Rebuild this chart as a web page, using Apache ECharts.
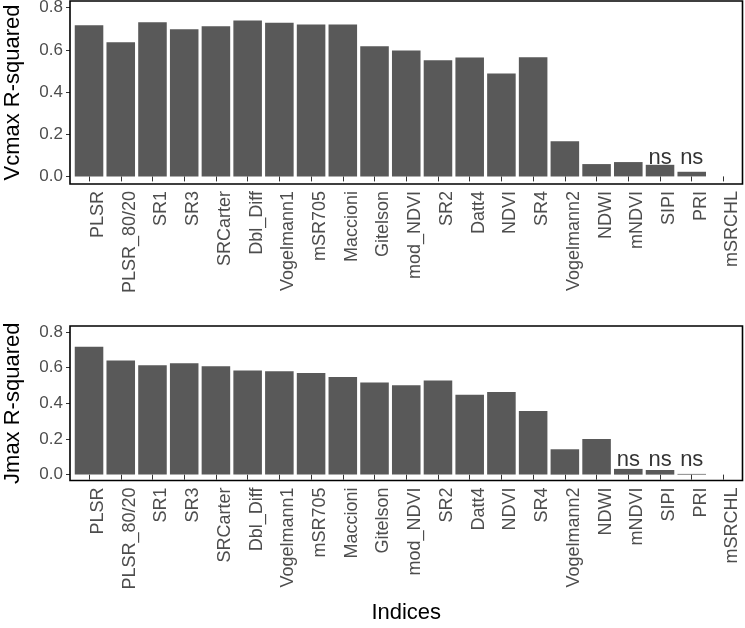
<!DOCTYPE html>
<html>
<head>
<meta charset="utf-8">
<script src="https://cdn.jsdelivr.net/npm/echarts@6/dist/echarts.min.js"></script>
<style>
html,body{margin:0;padding:0;background:#fff;}
#chart{width:745px;height:628px;}
</style>
</head>
<body>
<div id="chart"></div>
<script>
const categories = ['PLSR','PLSR_80/20','SR1','SR3','SRCarter','Dbl_Diff','Vogelmann1','mSR705','Maccioni','Gitelson','mod_NDVI','SR2','Datt4','NDVI','SR4','Vogelmann2','NDWI','mNDVI','SIPI','PRI','mSRCHL'];
const vcmax = [0.717,0.636,0.731,0.698,0.712,0.739,0.729,0.720,0.720,0.617,0.597,0.551,0.564,0.488,0.565,0.167,0.0585,0.068,0.055,0.022,0];
const jmax  = [0.717,0.639,0.613,0.624,0.607,0.583,0.579,0.570,0.547,0.517,0.501,0.527,0.448,0.463,0.357,0.142,0.200,0.032,0.026,0.004,0];
const vcmaxSig = ['','','','','','','','','','','','','','','','','','','ns','ns',''];
const jmaxSig  = ['','','','','','','','','','','','','','','','','','ns','ns','ns',''];
const vcmaxSigY = 0.054;
const jmaxSigY = 0.044;
const yTicks = [0, 0.2, 0.4, 0.6, 0.8];

const FONT = 'Liberation Sans, Arial, sans-serif';
const W = 745, H = 628;
const L = 70, R = 742.5;
const P1T = 1, P1B = 184;
const P2T = 326, P2B = 480.5;
const inset = (R - L) / 21.2 * 0.1;

function grid(top, bottom) {
  return { left: L + inset, right: W - R + inset, top: top, height: bottom - top,
    containLabel: false, outerBoundsMode: 'none' };
}
function xAxis(gi, name) {
  return {
    type: 'category', gridIndex: gi, data: categories,
    axisLine: { show: false },
    axisTick: { show: true, alignWithLabel: true, length: 5, lineStyle: { color: '#333', width: 1 } },
    axisLabel: { rotate: 90, fontSize: 18, color: '#4d4d4d', fontFamily: FONT, margin: 7, interval: 0, verticalAlign: 'top' },
    splitLine: { show: false },
    name: name || '', nameLocation: 'middle', nameGap: 121,
    nameTextStyle: { fontSize: 22, color: '#000', fontFamily: FONT }
  };
}
function yAxis(gi, min, max, name) {
  return {
    type: 'value', gridIndex: gi, min: min, max: max, offset: inset,
    axisLine: { show: false },
    axisTick: { show: true, length: 4, customValues: yTicks, lineStyle: { color: '#333', width: 1 } },
    axisLabel: { customValues: yTicks, fontSize: 17, color: '#4d4d4d', fontFamily: FONT, margin: 7,
      formatter: v => v.toFixed(1) },
    splitLine: { show: false },
    name: name, nameLocation: 'middle', nameGap: 46, nameRotate: 90,
    nameTextStyle: { fontSize: 22, color: '#000', fontFamily: FONT }
  };
}
function bars(idx, data) {
  return { type: 'bar', xAxisIndex: idx, yAxisIndex: idx, data: data, barCategoryGap: '10%',
    itemStyle: { color: '#595959' }, silent: true, animation: false };
}
function sig(idx, labels, y) {
  return { type: 'scatter', xAxisIndex: idx, yAxisIndex: idx, symbolSize: 0, animation: false, silent: true,
    data: labels.map(s => s ? y : '-'),
    label: { show: true, position: 'top', distance: 0, offset: [0, 4], fontSize: 22, color: '#000', fontFamily: FONT,
      formatter: p => labels[p.dataIndex] } };
}
function border(t, b) {
  return { type: 'rect', z: 100, silent: true, shape: { x: L, y: t, width: R - L, height: b - t },
    style: { fill: 'none', stroke: '#000', lineWidth: 1.6 } };
}

const chart = echarts.init(document.getElementById('chart'), null, { renderer: 'canvas' });
chart.setOption({
  backgroundColor: '#fff',
  animation: false,
  grid: [grid(P1T, P1B), grid(P2T, P2B)],
  xAxis: [xAxis(0), xAxis(1, 'Indices')],
  yAxis: [yAxis(0, -0.036, 0.832, 'Vcmax R-squared'), yAxis(1, -0.033, 0.833, 'Jmax R-squared')],
  series: [bars(0, vcmax), bars(1, jmax), sig(0, vcmaxSig, vcmaxSigY), sig(1, jmaxSig, jmaxSigY)],
  graphic: [border(P1T, P1B), border(P2T, P2B)]
});
</script>
</body>
</html>
